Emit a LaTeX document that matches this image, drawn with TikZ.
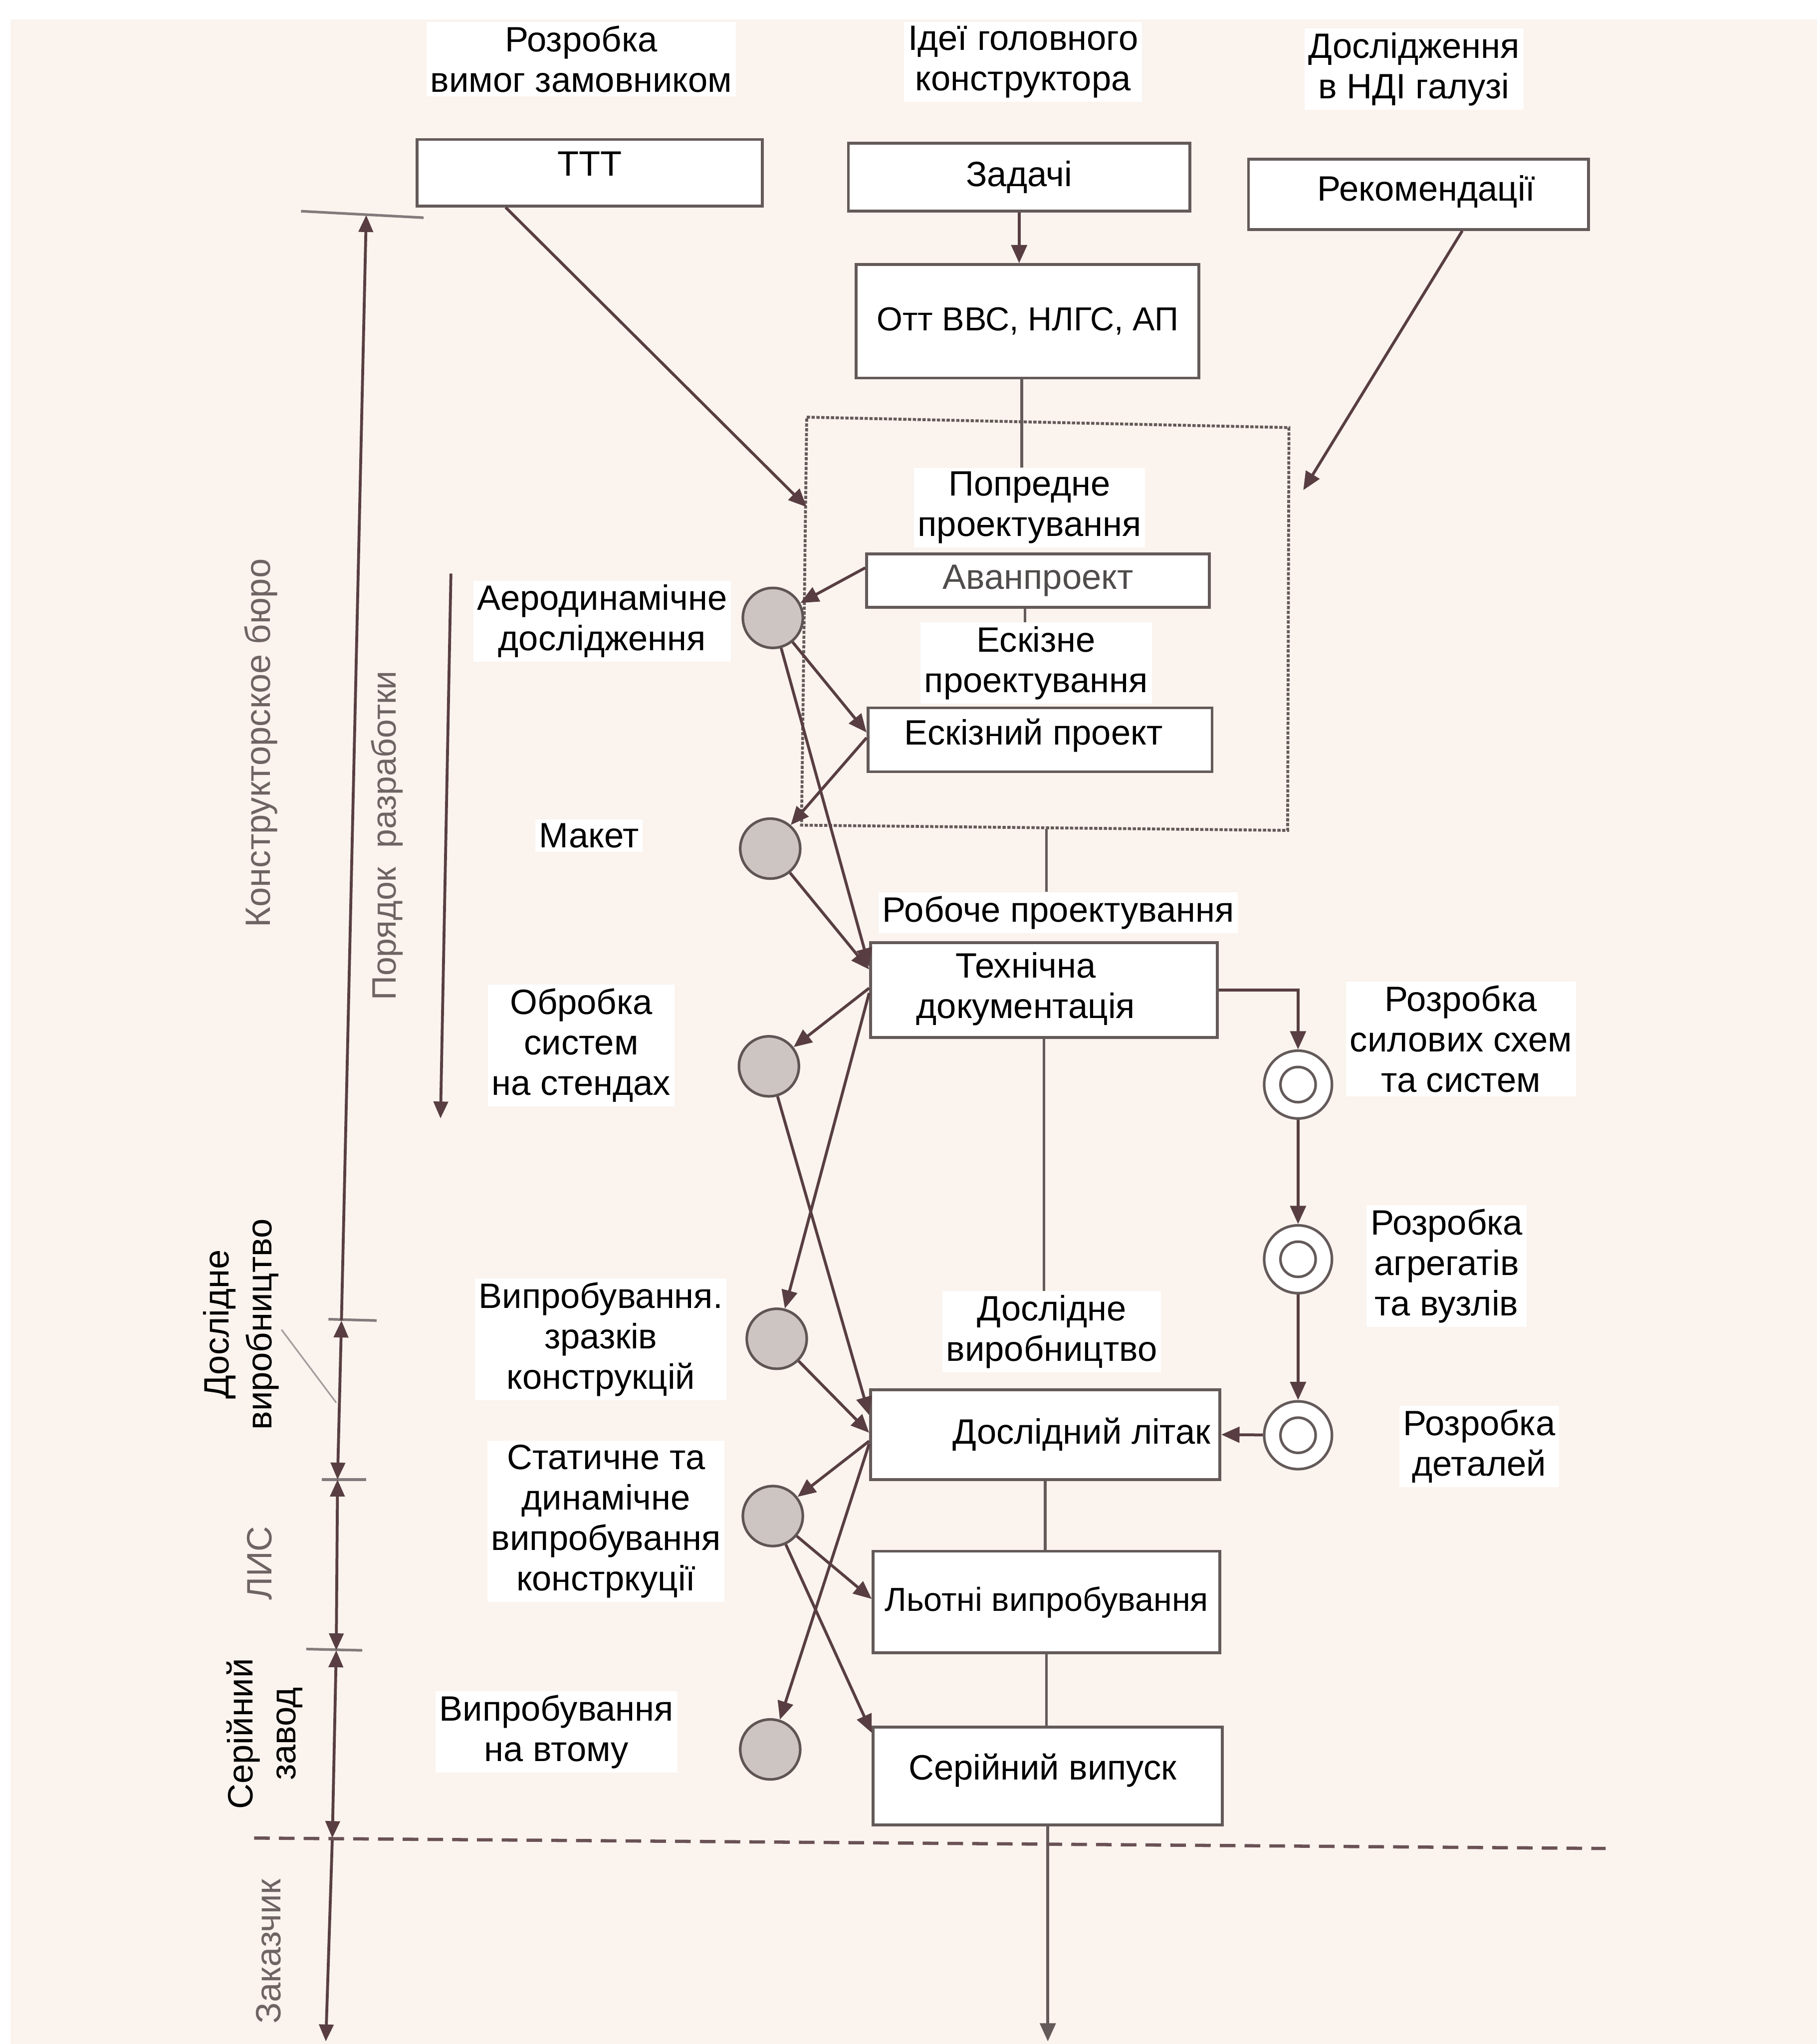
\documentclass[tikz,border=0pt]{standalone}
\usepackage{fontspec}
\setmainfont{Liberation Sans}
\usetikzlibrary{arrows.meta,calc}
\definecolor{bg}{RGB}{250,243,238}
\definecolor{linec}{RGB}{100,90,90}
\definecolor{arrc}{RGB}{88,62,66}
\definecolor{circf}{RGB}{205,197,194}
\definecolor{circd}{RGB}{95,85,85}
\definecolor{greyt}{RGB}{110,100,100}
\definecolor{avc}{RGB}{80,76,76}
\newcommand{\myfs}{\fontsize{27}{31}\selectfont}
\newcommand{\myfsn}{\fontsize{25.5}{31}\selectfont}
\begin{document}
\begin{tikzpicture}[x=1pt,y=-1pt,
  lbl/.style={font=\myfs, align=center, fill=white, inner sep=3pt, text=black},
  glbl/.style={font=\myfs, align=center, text=greyt, inner sep=1pt},
  blbl/.style={font=\myfs, align=center, text=black, inner sep=1pt},
  box/.style={draw=linec, line width=2.2pt, fill=white, inner sep=2pt, font=\myfs, align=center},
  gc/.style={circle, draw=circd, fill=circf, line width=2pt, minimum size=46pt, inner sep=0pt},
  dc/.style={circle, draw=linec, fill=white, line width=2pt, minimum size=52pt, inner sep=0pt},
  every label/.style={font=\myfs, align=center, text=black},
  arr/.style={draw=arrc, line width=2.2pt, -{Triangle[length=14pt,width=12pt]}},
  ln/.style={draw=linec, line width=2pt},
  axis/.style={draw=arrc, line width=2.2pt},
  tickl/.style={draw=linec!80, line width=2pt},
  dotbox/.style={draw=linec, line width=2.2pt, dash pattern=on 2.5pt off 1.2pt},
  dashl/.style={draw=arrc!90, line width=2.5pt, dash pattern=on 12pt off 7pt}]

\useasboundingbox (0,0) rectangle (1394,1568);
\fill[white] (0,0) rectangle (1394,1568);
\fill[bg] (8,15) rectangle (1394,1568);

% dotted frame of preliminary design
\coordinate (dTL) at (619,320);
\coordinate (dTR) at (989,328);
\coordinate (dBR) at (988,637);
\coordinate (dBL) at (615,633);
\draw[dotbox] (dTL) -- (dTR) -- (dBR) -- (dBL) -- cycle;
\coordinate (dA) at (619,389);
\coordinate (dB) at (1000,376);
\coordinate (dBot) at (803,636);
\coordinate (bot) at (805,1566);

% top labels
\node[lbl] (t1) at (446,45.5) {Розробка\\вимог замовником};
\node[lbl] (t2) at (785,47.5) {Ідеї головного\\конструктора};
\node[lbl] (t3) at (1085,53) {Дослідження\\в НДІ галузі};

% boxes
\node[box, minimum width=265pt, minimum height=51pt, label={[yshift=7pt]center:ТТТ}] (ttt) at (452.5,132.5) {};
\node[box, minimum width=262pt, minimum height=52pt] (zad) at (782,136) {Задачі};
\node[box, minimum width=261pt, minimum height=54pt, label={[xshift=6pt,yshift=2pt]center:Рекомендації}] (rek) at (1088.5,149) {};
\node[box, minimum width=263pt, minimum height=87pt, font=\myfsn] (ott) at (788.5,246.5) {Отт ВВС, НЛГС, АП};
\node[box, minimum width=263pt, minimum height=41pt, text=avc] (avan) at (796.5,445.5) {Аванпроект};
\node[box, minimum width=264pt, minimum height=49pt, label={[xshift=-5pt,yshift=3.5pt]center:Ескізний проект}] (eskp) at (798,567.5) {};
\node[box, minimum width=266pt, minimum height=73pt, label={[xshift=-14pt,yshift=1pt]center:Технічна\\документація}] (tech) at (801,759.5) {};
\node[box, minimum width=268pt, minimum height=69pt, label={[xshift=28pt]center:Дослідний літак}] (lit) at (802,1100.5) {};
\node[box, minimum width=266pt, minimum height=78pt, font=\myfsn] (lot) at (803,1229) {Льотні випробування};
\node[box, minimum width=268pt, minimum height=75pt, label={[xshift=-4pt,yshift=4.5pt]center:Серійний випуск}] (ser) at (804,1362.5) {};

% stage labels
\node[lbl] (pp) at (790,389.5) {Попредне\\проектування};
\node[lbl] (esk) at (795,508.5) {Ескізне\\проектування};
\node[lbl] (rob) at (812,700) {Робоче проектування};
\node[lbl] (dv) at (807,1021.5) {Дослідне\\виробництво};

% left labels
\node[lbl] (aero) at (462,476.5) {Аеродинамічне\\дослідження};
\node[lbl] (maket) at (452,641) {Макет};
\node[lbl] (obr) at (446,802) {Обробка\\систем\\на стендах};
\node[lbl] (vz) at (461,1027.5) {Випробування.\\зразків\\конструкцій};
\node[lbl] (st) at (465,1167) {Статичне та\\динамічне\\випробування\\констркуції};
\node[lbl] (vt) at (427,1328.5) {Випробування\\на втому};

% right labels
\node[lbl] (r1) at (1121,797) {Розробка\\силових схем\\та систем};
\node[lbl] (r2) at (1110,971) {Розробка\\агрегатів\\та вузлів};
\node[lbl] (r3) at (1135,1109.5) {Розробка\\деталей};

% circles
\node[gc] (a1) at (593,474) {};
\node[gc] (a2) at (591,651) {};
\node[gc] (a3) at (590,818) {};
\node[gc] (a4) at (596,1027) {};
\node[gc] (a5) at (593,1163) {};
\node[gc] (a6) at (591,1342) {};
\node[dc] (d1) at (996,832) {};
\node[dc] (d2) at (996,966) {};
\node[dc] (d3) at (996,1101) {};
\foreach \n in {d1,d2,d3} \draw[linec, line width=2pt] (\n) circle[radius=13.5];

% vertical labels
\node[glbl, rotate=90] (kb) at (200,570) {Конструкторское бюро};
\node[glbl, rotate=90, font=\fontsize{26}{31}\selectfont] (por) at (297,641) {Порядок\ \ разработки};
\node[blbl, rotate=90] (dvl) at (185,1016) {Дослідне\\[2pt]виробництво};
\node[glbl, rotate=90] (lis) at (199,1199) {ЛИС};
\node[blbl, rotate=90] (sz) at (203,1330) {Серійний\\[2pt]завод};
\node[glbl, rotate=90] (zk) at (206,1497) {Заказчик};

% main vertical line
\draw[arr] (zad.south) -- (zad.south |- ott.north);
\draw[ln] ([xshift=-4.5pt]ott.south) -- ([xshift=-4.5pt]ott.south |- pp.north);
\draw[ln] ([xshift=-10pt]avan.south) -- ([xshift=-10pt]avan.south |- esk.north);
\draw[ln] (dBot) -- (dBot |- rob.north);
\draw[ln] (tech.south) -- (tech.south |- dv.north);
\draw[ln] (lit.south) -- (lit.south |- lot.north);
\draw[ln] (lot.south) -- (lot.south |- ser.north);
\draw[arr, draw=linec] (ser.south) -- (ser.south |- bot);

% inputs
\draw[arr] ([xshift=-64.5pt]ttt.south) -- (dA);
\draw[arr] ([xshift=33.5pt]rek.south) -- (dB);

% circle arrows
\draw[arr] ($(avan.north west)!0.27!(avan.south west)$) -- (a1);
\draw[arr] (a1) -- ($(eskp.north west)!0.39!(eskp.south west)$);
\draw[arr] (a1) -- ($(tech.north west)!0.26!(tech.south west)$);
\draw[arr] ($(eskp.north west)!0.47!(eskp.south west)$) -- (a2);
\draw[arr] (a2) -- ($(tech.north west)!0.29!(tech.south west)$);
\draw[arr] ($(tech.north west)!0.48!(tech.south west)$) -- (a3);
\draw[arr] ($(tech.north west)!0.53!(tech.south west)$) -- (a4);
\draw[arr] (a3) -- ($(lit.north west)!0.29!(lit.south west)$);
\draw[arr] (a4) -- ($(lit.north west)!0.48!(lit.south west)$);
\draw[arr] ($(lit.north west)!0.57!(lit.south west)$) -- (a5);
\draw[arr] ($(lit.north west)!0.6!(lit.south west)$) -- (a6);
\draw[arr] (a5) -- ($(lot.north west)!0.47!(lot.south west)$);
\draw[arr] (a5) -- ($(ser.north west)!0.07!(ser.south west)$);

% right chain
\draw[arr] (tech.east) -| (d1);
\draw[arr] (d1) -- (d2);
\draw[arr] (d2) -- (d3);
\draw[arr] (d3) -- (lit.east);

% left axis
\coordinate (k0) at (281,165);
\coordinate (k1) at (262,1013);
\coordinate (k2) at (259,1135);
\coordinate (k3) at (258,1266);
\coordinate (k4) at (255,1410);
\coordinate (k5) at (250,1566);
\draw[tickl] (231,162) -- (325,167);
\draw[tickl] (252,1012) -- (289,1013);
\draw[tickl] (247,1135) -- (281,1135);
\draw[tickl] (235,1265) -- (278,1266);
\draw[axis,-{Triangle[length=13pt,width=11pt]}] (k1) -- (k0);
\draw[axis,{Triangle[length=13pt,width=11pt]}-{Triangle[length=13pt,width=11pt]}] (k1) -- (k2);
\draw[axis,{Triangle[length=13pt,width=11pt]}-{Triangle[length=13pt,width=11pt]}] (k2) -- (k3);
\draw[axis,{Triangle[length=13pt,width=11pt]}-{Triangle[length=13pt,width=11pt]}] (k3) -- (k4);
\draw[axis,-{Triangle[length=13pt,width=11pt]}] (k4) -- (k5);
\draw[draw=linec!60, line width=1.2pt] (216,1020) -- (258,1076);
\coordinate (pA) at (346,440);
\coordinate (pB) at (338,858);
\draw[axis,-{Triangle[length=13pt,width=11pt]}] (pA) -- (pB);

% boundary to customer
\coordinate (hA) at (195,1410);
\coordinate (hB) at (1232,1418);
\draw[dashl] (hA) -- (hB);
\end{tikzpicture}
\end{document}
